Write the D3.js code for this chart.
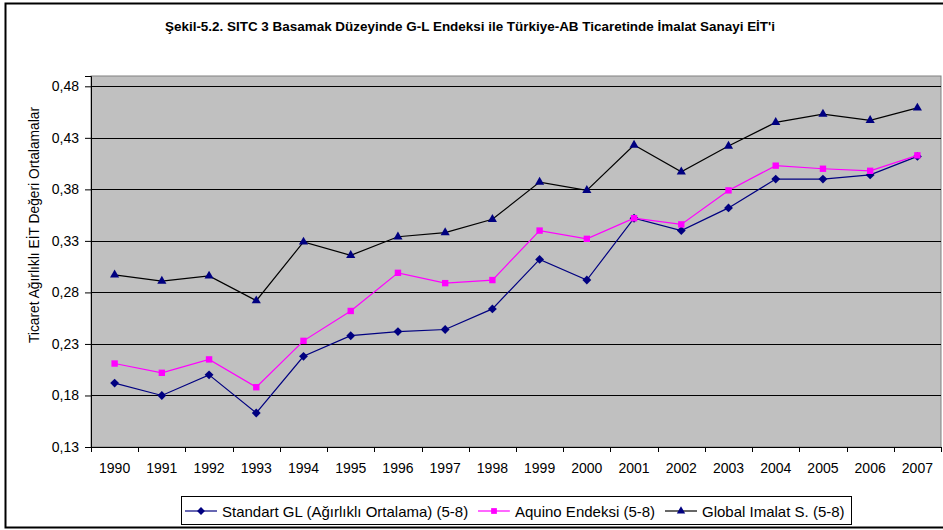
<!DOCTYPE html>
<html>
<head>
<meta charset="utf-8">
<script src="https://cdn.jsdelivr.net/npm/d3@7"></script>
<style>
  body { margin: 0; background: #fff; }
  svg { display: block; font-family: Arial, "Liberation Sans", sans-serif; }
</style>
</head>
<body>
<svg id="chart" width="943" height="530"></svg>
<script>
// data
var years = ["1990","1991","1992","1993","1994","1995","1996","1997","1998",
             "1999","2000","2001","2002","2003","2004","2005","2006","2007"];
var standartGL = [0.192,0.180,0.200,0.163,0.218,0.238,0.242,0.244,0.264,
                  0.312,0.292,0.352,0.340,0.362,0.390,0.390,0.394,0.412];
var aquino = [0.211,0.202,0.215,0.188,0.233,0.262,0.299,0.289,0.292,
              0.340,0.332,0.352,0.346,0.379,0.403,0.400,0.398,0.413];
var globalImalat = [0.297,0.291,0.296,0.272,0.329,0.316,0.334,0.338,0.351,
                    0.387,0.379,0.423,0.397,0.422,0.445,0.453,0.447,0.459];
var yTicks = [0.13,0.18,0.23,0.28,0.33,0.38,0.43,0.48];

var series = [
    {name: "Standart GL (Ağırlıklı Ortalama) (5-8)", values: standartGL, line: "#000080", fill: "#000080", symbol: d3.symbolDiamond2, size: 50},
    {name: "Aquino Endeksi (5-8)", values: aquino, line: "#ff00ff", fill: "#ff00ff", symbol: d3.symbolSquare2, size: 52},
    {name: "Global Imalat S. (5-8)", values: globalImalat, line: "#000000", fill: "#000080", symbol: d3.symbolTriangle2, size: 60}
];

var svg = d3.select("#chart");

// outer frame
svg.append("rect")
    .attr("x", 5.5).attr("y", 3.5)
    .attr("width", 960).attr("height", 524)
    .attr("fill", "none").attr("stroke", "#000").attr("stroke-width", 2);

var plot = {left: 91, top: 76, right: 941, bottom: 447};

var x = d3.scaleBand().domain(years).range([plot.left, plot.right]);
var y = d3.scaleLinear().domain([0.13, 0.49]).range([plot.bottom, plot.top]);

svg.append("rect")
    .attr("x", plot.left).attr("y", plot.top)
    .attr("width", plot.right - plot.left).attr("height", plot.bottom - plot.top)
    .attr("fill", "#c0c0c0").attr("stroke", "#808080");

// gridlines
svg.append("g").selectAll("line")
    .data(yTicks.slice(1))
    .enter().append("line")
    .attr("x1", plot.left).attr("x2", plot.right)
    .attr("y1", function(d) { return Math.round(y(d)) + 0.5; })
    .attr("y2", function(d) { return Math.round(y(d)) + 0.5; })
    .attr("stroke", "#000");

var fmt = function(d) { return d.toFixed(2).replace(".", ","); };

var yAxis = svg.append("g")
    .attr("transform", "translate(" + plot.left + ",0)")
    .call(d3.axisLeft(y).tickValues(yTicks).tickFormat(fmt).tickSize(6).tickPadding(6));
yAxis.select(".domain").attr("stroke", "#000");
yAxis.selectAll("text").attr("font-size", 14).attr("fill", "#000")
    .attr("font-family", "Arial, 'Liberation Sans', sans-serif");

var xAxis = svg.append("g")
    .attr("transform", "translate(0," + plot.bottom + ")")
    .call(d3.axisBottom(x).tickSize(0).tickPadding(16));
xAxis.select(".domain").attr("stroke", "#000");
xAxis.selectAll("text").attr("font-size", 14).attr("fill", "#000")
    .attr("font-family", "Arial, 'Liberation Sans', sans-serif");

// category boundary ticks
var bounds = years.map(function(d) { return x(d); }).concat([plot.right]);
svg.append("g").selectAll("line")
    .data(bounds)
    .enter().append("line")
    .attr("x1", function(d) { return Math.round(d) + 0.5; })
    .attr("x2", function(d) { return Math.round(d) + 0.5; })
    .attr("y1", plot.bottom).attr("y2", plot.bottom + 5)
    .attr("stroke", "#000");

var cx = function(i) { return x(years[i]) + x.bandwidth() / 2; };

var line = d3.line()
    .x(function(d, i) { return cx(i); })
    .y(function(d) { return y(d); });

series.forEach(function(s) {
    svg.append("path")
        .datum(s.values)
        .attr("d", line)
        .attr("fill", "none")
        .attr("stroke", s.line)
        .attr("stroke-width", 1.2);
    svg.append("g").selectAll("path")
        .data(s.values)
        .enter().append("path")
        .attr("d", d3.symbol().type(s.symbol).size(s.size))
        .attr("transform", function(d, i) { return "translate(" + cx(i) + "," + y(d) + ")"; })
        .attr("fill", s.fill);
});

// title
svg.append("text")
    .attr("x", 470).attr("y", 31)
    .attr("text-anchor", "middle")
    .attr("font-size", 12).attr("font-weight", "bold")
    .attr("textLength", 610).attr("lengthAdjust", "spacingAndGlyphs")
    .text("Şekil-5.2. SITC 3 Basamak Düzeyinde G-L Endeksi ile Türkiye-AB Ticaretinde İmalat Sanayi EİT'i");

// y axis title
svg.append("text")
    .attr("transform", "translate(39,225) rotate(-90)")
    .attr("text-anchor", "middle")
    .attr("font-size", 13.8)
    .text("Ticaret Ağırlıklı EİT Değeri Ortalamalar");

// legend
var legend = svg.append("g");
legend.append("rect")
    .attr("x", 181.5).attr("y", 496.5)
    .attr("width", 670).attr("height", 28)
    .attr("fill", "#fff").attr("stroke", "#000");

var legendX = [185, 478, 665];
series.forEach(function(s, i) {
    var g = legend.append("g").attr("transform", "translate(" + legendX[i] + ",511)");
    g.append("line").attr("x1", 0).attr("x2", 32).attr("y1", 0).attr("y2", 0)
        .attr("stroke", s.line).attr("stroke-width", 1.2);
    g.append("path").attr("d", d3.symbol().type(s.symbol).size(s.size - 10))
        .attr("transform", "translate(16,0)").attr("fill", s.fill);
    g.append("text").attr("x", 37).attr("y", 5.5)
        .attr("font-size", 15).text(s.name);
});
</script>
</body>
</html>
